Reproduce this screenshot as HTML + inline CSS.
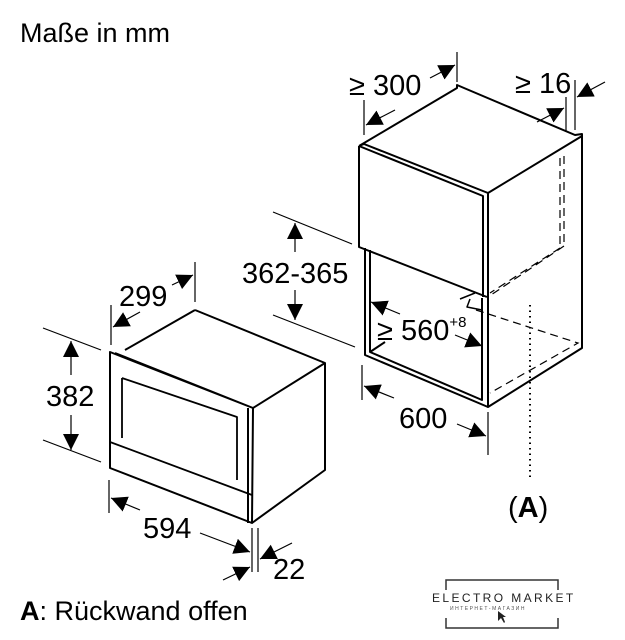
<!DOCTYPE html>
<html><head><meta charset="utf-8"><style>
html,body{margin:0;padding:0;background:#fff;}
svg{display:block;font-family:"Liberation Sans",sans-serif;}
</style></head><body>
<svg width="625" height="640" viewBox="0 0 625 640" xmlns="http://www.w3.org/2000/svg">
<defs>
<marker id="a" viewBox="0 0 10 10" refX="10" refY="5" markerWidth="16" markerHeight="16" markerUnits="userSpaceOnUse" orient="auto"><path d="M0,0L10,5L0,10z" fill="#000"/></marker>
</defs>
<text x="20" y="42" font-size="27">Maße in mm</text>
<text x="20" y="620" font-size="27"><tspan font-weight="bold">A</tspan>: Rückwand offen</text>

<g fill="none" stroke="#000" stroke-width="2" stroke-linejoin="round">
<path d="M359,146 L457,88 L457,85 L464,88 L575,135 L582,134 L582,348 L488,407 L488,297 M359,146 L359,247 L487,297 M359,146 L364,144 L488,193 L488,297 M359,146 L483,196 L483,297 M488,193 L582,136"/>
<path d="M365,248 L365,355 L488,407 M370,250 L370,352 L482,400 L482,298 M370,352 L385,342"/>
<path d="M460,299 L475,293 M470,299 L467,307 L482,310" stroke-width="1.5"/>
</g>
<g fill="none" stroke="#000" stroke-width="1.2" stroke-dasharray="8,5">
<path d="M560,158 L560,248 M564,156 L564,246 M564,246 L488,297 M560,248 L490,293 M476,310 L578,343 L490,393"/>
</g>
<line x1="530" y1="305" x2="530" y2="478" stroke="#000" stroke-width="2" stroke-dasharray="1.5,4"/>
<text x="508" y="517" font-size="29"><tspan>(</tspan><tspan font-weight="bold">A</tspan><tspan>)</tspan></text>

<g fill="none" stroke="#000" stroke-width="2" stroke-linejoin="round">
<path d="M110,352 L110,468 L252,523 L253,408 L110,352 Z M115,353 L253,408 M195,310 L325,363 L325,470 L252,523 M195,310 L125,350 M253,408 L325,363 M248,408 L248,523"/>
<path d="M122,378 L122,438 M122,378 L237,417 L237,480 M110,442 L252,495" stroke-width="1.8"/>
</g>

<g stroke="#000" stroke-width="1.2" fill="none">
<line x1="364" y1="100" x2="364" y2="135"/><line x1="457" y1="52" x2="457" y2="82"/>
<line x1="395" y1="110" x2="366" y2="125" marker-end="url(#a)"/>
<line x1="430" y1="78" x2="455" y2="65" marker-end="url(#a)"/>
<line x1="566" y1="97" x2="566" y2="132"/><line x1="575" y1="80" x2="575" y2="130"/>
<line x1="537" y1="122" x2="564" y2="108" marker-end="url(#a)"/>
<line x1="605" y1="82" x2="577" y2="97" marker-end="url(#a)"/>
<line x1="273" y1="212" x2="352" y2="244"/><line x1="273" y1="315" x2="355" y2="347"/>
<line x1="295" y1="252" x2="295" y2="223" marker-end="url(#a)"/>
<line x1="295" y1="290" x2="295" y2="320" marker-end="url(#a)"/>
<line x1="400" y1="314" x2="371" y2="302" marker-end="url(#a)"/>
<line x1="455" y1="335" x2="482" y2="346" marker-end="url(#a)"/>
<line x1="362" y1="365" x2="362" y2="400"/><line x1="488" y1="412" x2="488" y2="455"/>
<line x1="394" y1="398" x2="364" y2="386" marker-end="url(#a)"/>
<line x1="457" y1="424" x2="486" y2="436" marker-end="url(#a)"/>
<line x1="111" y1="305" x2="111" y2="345"/><line x1="195" y1="262" x2="195" y2="302"/>
<line x1="140" y1="312" x2="113" y2="327" marker-end="url(#a)"/>
<line x1="172" y1="285" x2="193" y2="275" marker-end="url(#a)"/>
<line x1="43" y1="328" x2="101" y2="350"/><line x1="43" y1="440" x2="101" y2="462"/>
<line x1="71" y1="375" x2="71" y2="341" marker-end="url(#a)"/>
<line x1="71" y1="415" x2="71" y2="450" marker-end="url(#a)"/>
<line x1="109" y1="480" x2="109" y2="513"/><line x1="252" y1="528" x2="252" y2="572"/><line x1="258" y1="528" x2="258" y2="572"/>
<line x1="140" y1="510" x2="111" y2="498" marker-end="url(#a)"/>
<line x1="200" y1="533" x2="250" y2="552" marker-end="url(#a)"/>
<line x1="223" y1="580" x2="250" y2="567" marker-end="url(#a)"/>
<line x1="292" y1="543" x2="260" y2="559" marker-end="url(#a)"/>
</g>

<g font-size="29">
<text x="349" y="95">≥ 300</text>
<text x="515" y="93">≥ 16</text>
<text x="242" y="283">362-365</text>
<text x="377" y="340">≥ 560<tspan font-size="15" dy="-13">+8</tspan></text>
<text x="399" y="428">600</text>
<text x="119" y="306">299</text>
<text x="46" y="406">382</text>
<text x="143" y="538">594</text>
<text x="273" y="579">22</text>
</g>

<g stroke="#333" stroke-width="1.5" fill="none">
<path d="M446,590 L446,580 L558,580 L558,590 M446,618 L446,628 L558,628 L558,618"/>
</g>
<text x="432" y="602" font-size="12" letter-spacing="2.4" fill="#222">ELECTRO MARKET</text>
<text x="450" y="610" font-size="5" letter-spacing="1.5" fill="#555">ИНТЕРНЕТ-МАГАЗИН</text>
<path d="M498,611 L498,621 L501,618 L504,623 L505,622 L503,617 L506,617 Z" fill="#222"/>
</svg>
</body></html>
